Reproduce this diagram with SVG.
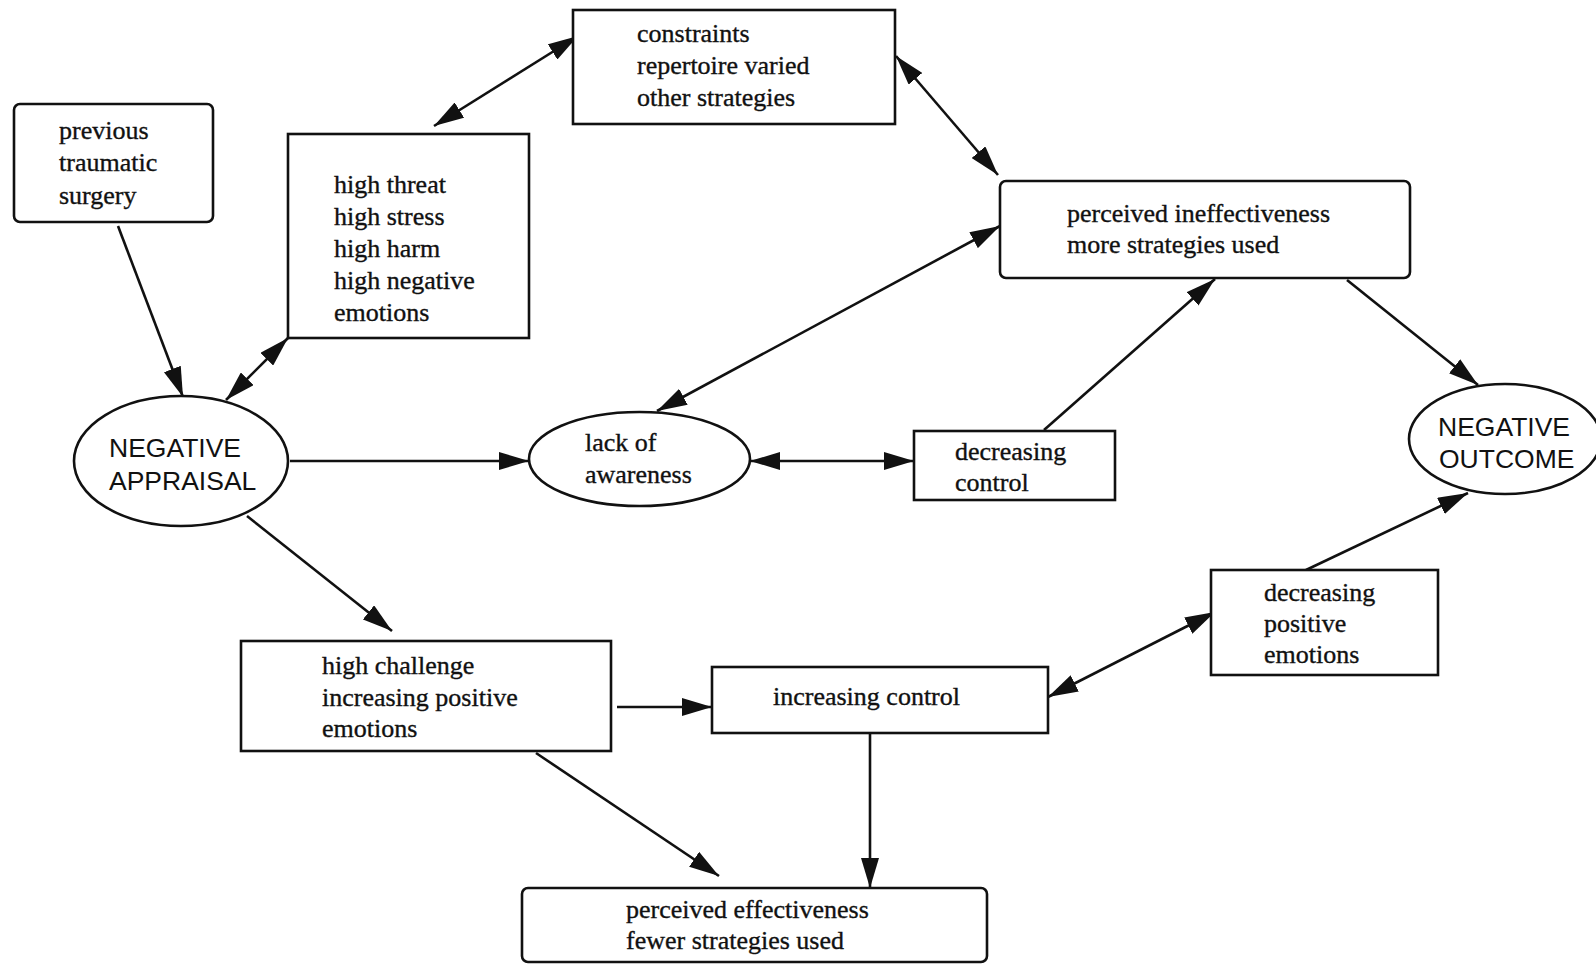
<svg xmlns="http://www.w3.org/2000/svg" width="1596" height="964" viewBox="0 0 1596 964">
  <style>
    .box { fill: #ffffff; stroke: #111; stroke-width: 2.6; }
    .oval { fill: #ffffff; stroke: #111; stroke-width: 2.6; }
    .lbl { font-family: "Liberation Serif", "Times New Roman", serif; font-size: 26px; fill: #111; stroke: #111; stroke-width: 0.35; }
    .cap { font-family: "Liberation Sans", Arial, sans-serif; font-size: 26.5px; fill: #111; }
    .edge { stroke: #111; stroke-width: 2.6; fill: none; }
    .one { marker-end: url(#head); }
    .two { marker-start: url(#head); marker-end: url(#head); }
  </style>
  <defs>
    <marker id="head" markerUnits="userSpaceOnUse" markerWidth="32" markerHeight="18" refX="30" refY="9" orient="auto-start-reverse">
      <path d="M0,0 L30,9 L0,18 Z" fill="#111"/>
    </marker>
  </defs>
  <rect width="1596" height="964" fill="#ffffff"/>

  <g id="connectors">
    <line class="edge one" x1="118" y1="226" x2="183" y2="397"/>
    <line class="edge two" x1="288" y1="338" x2="226" y2="400"/>
    <line class="edge two" x1="434" y1="126" x2="578" y2="36"/>
    <line class="edge two" x1="896" y1="56" x2="998" y2="175"/>
    <line class="edge two" x1="657" y1="411" x2="1000" y2="226"/>
    <line class="edge one" x1="290" y1="461" x2="529" y2="461"/>
    <line class="edge two" x1="750" y1="461" x2="914" y2="461"/>
    <line class="edge one" x1="1044" y1="430" x2="1215" y2="279"/>
    <line class="edge one" x1="1347" y1="280" x2="1478" y2="385"/>
    <line class="edge one" x1="1306" y1="570" x2="1468" y2="493"/>
    <line class="edge two" x1="1048" y1="697" x2="1215" y2="612"/>
    <line class="edge one" x1="247" y1="516" x2="392" y2="631"/>
    <line class="edge one" x1="617" y1="707" x2="712" y2="707"/>
    <line class="edge one" x1="536" y1="753" x2="719" y2="876"/>
    <line class="edge one" x1="870" y1="733" x2="870" y2="888"/>
  </g>

  <g id="previous-surgery">
    <rect class="box" x="14" y="104" width="199" height="118" rx="6"/>
    <text class="lbl" x="59" y="139">previous</text>
    <text class="lbl" x="59" y="171">traumatic</text>
    <text class="lbl" x="59" y="204">surgery</text>
  </g>

  <g id="high-threat">
    <rect class="box" x="288" y="134" width="241" height="204"/>
    <text class="lbl" x="334" y="193">high threat</text>
    <text class="lbl" x="334" y="225">high stress</text>
    <text class="lbl" x="334" y="257">high harm</text>
    <text class="lbl" x="334" y="289">high negative</text>
    <text class="lbl" x="334" y="321">emotions</text>
  </g>

  <g id="constraints">
    <rect class="box" x="573" y="10" width="322" height="114"/>
    <text class="lbl" x="637" y="42">constraints</text>
    <text class="lbl" x="637" y="74">repertoire varied</text>
    <text class="lbl" x="637" y="106">other strategies</text>
  </g>

  <g id="perceived-ineffectiveness">
    <rect class="box" x="1000" y="181" width="410" height="97" rx="6"/>
    <text class="lbl" x="1067" y="222">perceived ineffectiveness</text>
    <text class="lbl" x="1067" y="253">more strategies used</text>
  </g>

  <g id="negative-appraisal">
    <ellipse class="oval" cx="181" cy="461" rx="107" ry="65"/>
    <text class="cap" x="109" y="457">NEGATIVE</text>
    <text class="cap" x="109" y="490">APPRAISAL</text>
  </g>

  <g id="lack-of-awareness">
    <ellipse class="oval" cx="639.5" cy="459" rx="110.5" ry="47"/>
    <text class="lbl" x="585" y="451">lack of</text>
    <text class="lbl" x="585" y="483">awareness</text>
  </g>

  <g id="decreasing-control">
    <rect class="box" x="914" y="431" width="201" height="69"/>
    <text class="lbl" x="955" y="460">decreasing</text>
    <text class="lbl" x="955" y="491">control</text>
  </g>

  <g id="negative-outcome">
    <ellipse class="oval" cx="1505" cy="439" rx="96" ry="55"/>
    <text class="cap" x="1438" y="436">NEGATIVE</text>
    <text class="cap" x="1439" y="468">OUTCOME</text>
  </g>

  <g id="high-challenge">
    <rect class="box" x="241" y="641" width="370" height="110"/>
    <text class="lbl" x="322" y="674">high challenge</text>
    <text class="lbl" x="322" y="706">increasing positive</text>
    <text class="lbl" x="322" y="737">emotions</text>
  </g>

  <g id="increasing-control">
    <rect class="box" x="712" y="667" width="336" height="66"/>
    <text class="lbl" x="773" y="705">increasing control</text>
  </g>

  <g id="decreasing-positive-emotions">
    <rect class="box" x="1211" y="570" width="227" height="105"/>
    <text class="lbl" x="1264" y="601">decreasing</text>
    <text class="lbl" x="1264" y="632">positive</text>
    <text class="lbl" x="1264" y="663">emotions</text>
  </g>

  <g id="perceived-effectiveness">
    <rect class="box" x="522" y="888" width="465" height="74" rx="6"/>
    <text class="lbl" x="626" y="918">perceived effectiveness</text>
    <text class="lbl" x="626" y="949">fewer strategies used</text>
  </g>
</svg>
